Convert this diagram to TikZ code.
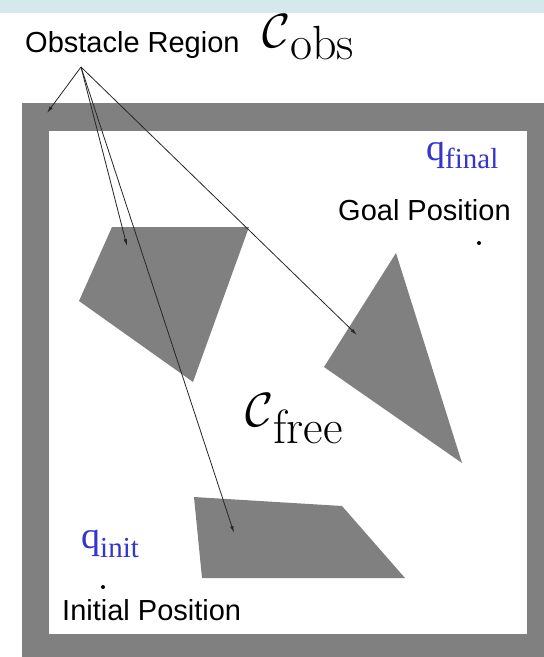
\documentclass[tikz,border=0pt]{standalone}
\usepackage{fontspec}
\usetikzlibrary{arrows.meta}
\newfontfamily\arialf{Liberation Sans}
\newfontfamily\timesf{Liberation Serif}
\definecolor{stripblue}{HTML}{D5E8EC}
\definecolor{obsgray}{HTML}{808080}
\definecolor{qblue}{HTML}{3535CC}
\newcommand{\bigcal}{\scalebox{4.8}{\fontsize{10}{12}\selectfont$\mathcal{C}$}}
\tikzset{
  lbl/.style={inner sep=0pt, anchor=base west, font=\arialf\fontsize{29}{29}\selectfont},
  cspace/.style={inner sep=0pt, anchor=base west, font=\fontsize{48}{48}\selectfont},
  qlbl/.style={inner sep=0pt, anchor=base west, text=qblue, font=\timesf\fontsize{38}{38}\selectfont},
  ptr/.style={draw=black!85, line width=0.8pt, -{Latex[length=7pt,width=3.5pt]}},
  obst/.style={fill=obsgray}
}
\begin{document}
\begin{tikzpicture}[x=1pt,y=-1pt]
\useasboundingbox (0,0) rectangle (544,657);
% top strip
\fill[stripblue] (0,0) rectangle (544,13);
% outer wall
\fill[obsgray] (22,103) rectangle (544,657);
\fill[white] (49,131) rectangle (527,634);
% obstacles
\fill[obst] (112,227) -- (249,227) -- (193,382) -- (79,301) -- cycle;
\fill[obst] (396,253) -- (462,463) -- (324,367) -- cycle;
\fill[obst] (194,497) -- (342,506) -- (405,578) -- (202,578) -- cycle;
% labels
\node[lbl] (obsreg) at (25,52) {Obstacle Region};
\node[cspace] (cobs) at (262,47) {\bigcal\raisebox{-12pt}{obs}};
\node[cspace] (cfree) at (245,426) {\bigcal\raisebox{-17pt}{free}};
\node[lbl] (goal) at (338,220) {Goal Position};
\node[lbl] (init) at (62,620) {Initial Position};
\node[qlbl] (qfinal) at (426,160) {q\raisebox{-8pt}{\fontsize{29}{29}\selectfont final}};
\node[qlbl] (qinit) at (81,548) {q\raisebox{-9pt}{\fontsize{29}{29}\selectfont init}};
% positions
\fill (479,243) circle (2);
\fill (103,587) circle (2);
% pointers
\coordinate (src) at (81,67);
\coordinate (twall) at (47,113);
\coordinate (tquad) at (127,246);
\coordinate (tlow) at (234,533);
\coordinate (ttri) at (357,335);
\draw[ptr] (src) -- (twall);
\draw[ptr] (src) -- (tquad);
\draw[ptr] (src) -- (tlow);
\draw[ptr] (src) -- (ttri);
\end{tikzpicture}
\end{document}
